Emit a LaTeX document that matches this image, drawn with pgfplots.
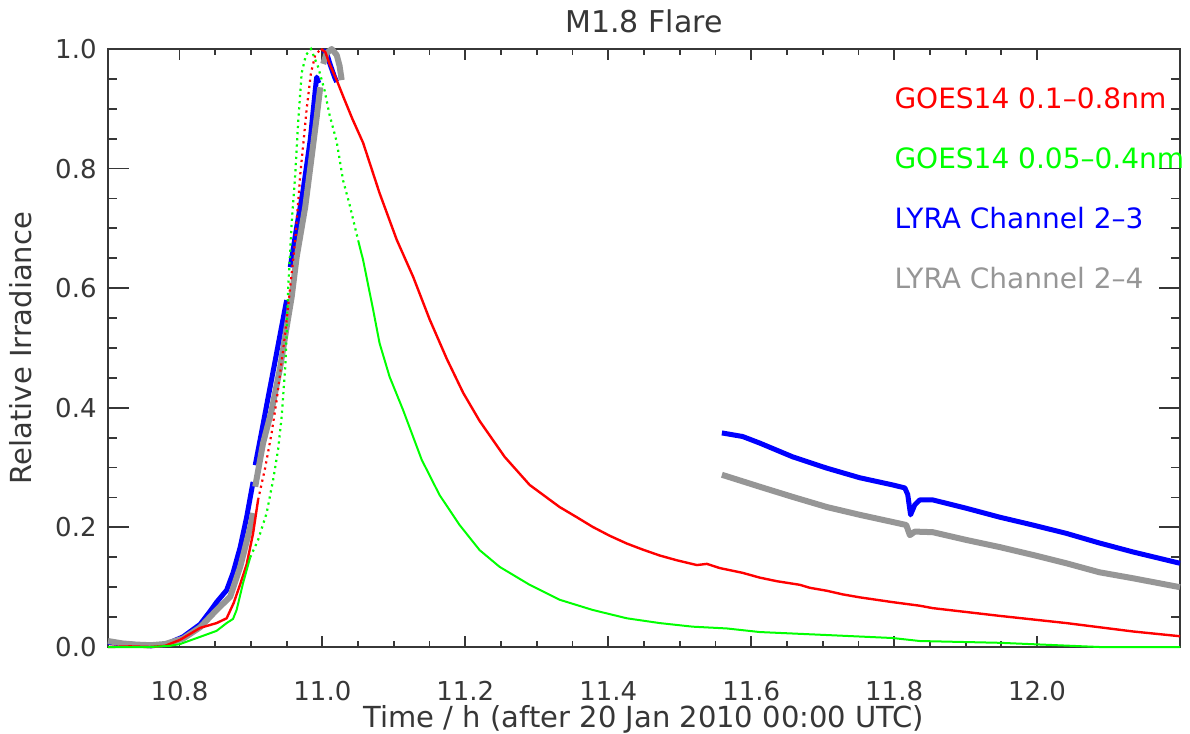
\documentclass[border=0pt]{standalone}
\usepackage{fontspec}
\setmainfont{DejaVu Sans}
\usepackage{pgfplots}
\pgfplotsset{compat=1.18}
\definecolor{lyragray}{RGB}{150,150,150}
\definecolor{axgray}{RGB}{55,55,55}
\begin{document}
\begin{tikzpicture}
\begin{axis}[
  scale only axis, width=536pt, height=299pt,
  xmin=10.7, xmax=12.2, ymin=0, ymax=1.0,
  clip=false,
  xtick={10.8,11.0,11.2,11.4,11.6,11.8,12.0},
  ytick={0,0.2,0.4,0.6,0.8,1.0},
  minor x tick num=3, minor y tick num=3,
  axis line style={axgray, line width=1pt},
  tick style={axgray, line width=0.9pt},
  major tick length=5.5pt, minor tick length=3pt,
  ytick style={/pgfplots/major tick length=10.5pt, /pgfplots/minor tick length=4.5pt},
  /pgf/number format/assume math mode=true,
  xticklabel style={/pgf/number format/fixed, /pgf/number format/fixed zerofill, /pgf/number format/precision=1,
     font=\fontsize{13}{15}\selectfont, text=axgray, anchor=base, yshift=-27pt},
  yticklabel style={/pgf/number format/fixed, /pgf/number format/fixed zerofill, /pgf/number format/precision=1,
     font=\fontsize{13}{15}\selectfont, text=axgray, anchor=east, inner sep=0pt, xshift=-5.5pt},
  every axis title/.style={at={(0.5,1)}, anchor=base, yshift=8pt, font=\fontsize{15}{18}\selectfont, text=axgray},
  every axis x label/.style={at={(0.5,0)}, anchor=base, yshift=-40pt, font=\fontsize{14.5}{17}\selectfont, text=axgray},
  every axis y label/.style={at={(0,0.5)}, xshift=-38pt, rotate=90, anchor=base, font=\fontsize{14.5}{17}\selectfont, text=axgray},
  title={M1.8 Flare},
  xlabel={Time / h (after 20 Jan 2010 00:00 UTC)},
  ylabel={Relative Irradiance},
]
% LYRA Channel 2-3 (blue)
\addplot[blue, line width=2.5pt, line join=round] coordinates {
(10.700,0.008) (10.720,0.005) (10.740,0.004) (10.760,0.002) (10.780,0.004) (10.805,0.017) (10.829,0.038) (10.843,0.060) (10.852,0.075) (10.866,0.095) (10.875,0.124) (10.885,0.167) (10.894,0.217) (10.903,0.276)};
\addplot[blue, line width=2.5pt] coordinates {
(10.906,0.304) (10.915,0.360) (10.924,0.417) (10.933,0.473) (10.942,0.530) (10.950,0.580)};
\addplot[blue, line width=2.5pt, line join=round] coordinates {
(10.955,0.635) (10.964,0.702) (10.973,0.764) (10.983,0.848) (10.990,0.931) (10.992,0.953) (10.995,0.943)};
\addplot[blue, line width=2.5pt, line join=round] coordinates {
(11.001,0.998) (11.006,0.993) (11.010,0.977) (11.017,0.953) (11.020,0.945)};
\addplot[blue, line width=2.5pt, line join=round] coordinates {
(11.559,0.358) (11.588,0.352) (11.612,0.341) (11.658,0.318) (11.706,0.299) (11.752,0.283) (11.798,0.271) (11.815,0.266) (11.819,0.255) (11.823,0.221) (11.829,0.238) (11.836,0.246) (11.854,0.246) (11.901,0.232) (11.948,0.217) (11.994,0.204) (12.041,0.190) (12.087,0.174) (12.134,0.159) (12.200,0.140)};
% LYRA Channel 2-4 (gray)
\addplot[lyragray, line width=3pt, line join=round] coordinates {
(10.700,0.010) (10.720,0.006) (10.740,0.004) (10.760,0.003) (10.780,0.005) (10.805,0.014) (10.829,0.033) (10.852,0.062) (10.871,0.084) (10.885,0.134) (10.899,0.200) (10.903,0.224)};
\addplot[lyragray, line width=3pt, line join=round] coordinates {
(10.906,0.268) (10.917,0.341) (10.929,0.396) (10.941,0.468) (10.950,0.535) (10.957,0.585) (10.964,0.652) (10.976,0.736) (10.985,0.820) (10.992,0.886) (10.997,0.936)};
\addplot[lyragray, line width=3pt, line join=round] coordinates {
(11.001,0.975) (11.006,0.993) (11.013,1.000) (11.020,0.990) (11.024,0.972) (11.027,0.948)};
\addplot[lyragray, line width=3pt, line join=round] coordinates {
(11.559,0.288) (11.612,0.268) (11.658,0.251) (11.706,0.234) (11.752,0.221) (11.798,0.209) (11.817,0.204) (11.822,0.187) (11.829,0.193) (11.854,0.192) (11.901,0.179) (11.948,0.167) (11.994,0.154) (12.041,0.140) (12.087,0.125) (12.134,0.115) (12.200,0.100)};
% GOES 0.1-0.8 nm (red)
\addplot[red, line width=1.2pt, line join=round] coordinates {
(10.700,0.000) (10.731,0.001) (10.759,0.000) (10.780,0.002) (10.801,0.012) (10.829,0.032) (10.852,0.040) (10.866,0.048) (10.876,0.074) (10.885,0.105) (10.894,0.138) (10.903,0.190) (10.910,0.246)};
\addplot[red, line width=1.1pt, dotted] coordinates {
(10.910,0.246) (10.920,0.300) (10.929,0.358) (10.936,0.413) (10.942,0.468) (10.948,0.525) (10.953,0.580) (10.962,0.680) (10.969,0.790) (10.974,0.850) (10.978,0.900) (10.984,0.960) (10.990,0.990) (10.998,1.000)};
\addplot[red, line width=1.2pt, line join=round] coordinates {
(10.998,1.000) (11.004,0.995) (11.010,0.975) (11.020,0.948) (11.030,0.918) (11.042,0.883) (11.057,0.843) (11.080,0.759) (11.104,0.681) (11.127,0.619) (11.150,0.548) (11.174,0.482) (11.197,0.425) (11.220,0.378) (11.255,0.318) (11.290,0.271) (11.332,0.234) (11.356,0.217) (11.378,0.201) (11.402,0.186) (11.426,0.173) (11.448,0.163) (11.472,0.153) (11.496,0.145) (11.524,0.137) (11.538,0.139) (11.556,0.132) (11.588,0.124) (11.612,0.116) (11.636,0.110) (11.668,0.104) (11.682,0.099) (11.706,0.094) (11.728,0.088) (11.752,0.083) (11.798,0.075) (11.836,0.069) (11.854,0.065) (11.948,0.052) (12.041,0.040) (12.134,0.026) (12.200,0.018)};
% GOES 0.05-0.4 nm (green)
\addplot[green, line width=1pt, line join=round] coordinates {
(10.700,0.000) (10.759,0.000) (10.787,0.002) (10.801,0.005) (10.829,0.017) (10.852,0.027) (10.866,0.040) (10.875,0.047) (10.880,0.062) (10.889,0.107) (10.899,0.150)};
\addplot[green, line width=1.1pt, dotted] coordinates {
(10.899,0.150) (10.910,0.179) (10.922,0.224) (10.931,0.279) (10.938,0.330) (10.943,0.385) (10.948,0.468) (10.950,0.525) (10.952,0.597) (10.957,0.709) (10.962,0.790) (10.966,0.876) (10.971,0.960) (10.977,0.990) (10.984,1.000) (10.994,0.970) (11.003,0.931) (11.010,0.890) (11.020,0.845) (11.029,0.780) (11.038,0.740) (11.050,0.680)};
\addplot[green, line width=1pt, line join=round] coordinates {
(11.050,0.680) (11.057,0.647) (11.071,0.564) (11.080,0.508) (11.094,0.452) (11.113,0.396) (11.139,0.313) (11.164,0.254) (11.192,0.204) (11.220,0.162) (11.248,0.134) (11.290,0.104) (11.332,0.079) (11.378,0.062) (11.426,0.048) (11.472,0.040) (11.518,0.034) (11.566,0.031) (11.612,0.025) (11.706,0.020) (11.798,0.015) (11.836,0.010) (11.948,0.007) (12.087,0.000) (12.200,0.000)};
% labels
\node[anchor=base west, text=red, font=\fontsize{14}{16}\selectfont, inner sep=0pt] at (axis cs:11.8,0.9) {GOES14 0.1–0.8nm};
\node[anchor=base west, text=green, font=\fontsize{14}{16}\selectfont, inner sep=0pt] at (axis cs:11.8,0.8) {GOES14 0.05–0.4nm};
\node[anchor=base west, text=blue, font=\fontsize{14}{16}\selectfont, inner sep=0pt] at (axis cs:11.8,0.7) {LYRA Channel 2–3};
\node[anchor=base west, text=lyragray, font=\fontsize{14}{16}\selectfont, inner sep=0pt] at (axis cs:11.8,0.6) {LYRA Channel 2–4};
\end{axis}
\pgfresetboundingbox
\useasboundingbox (-54pt,-43.5pt) rectangle (541pt,323.5pt);
\end{tikzpicture}
\end{document}
